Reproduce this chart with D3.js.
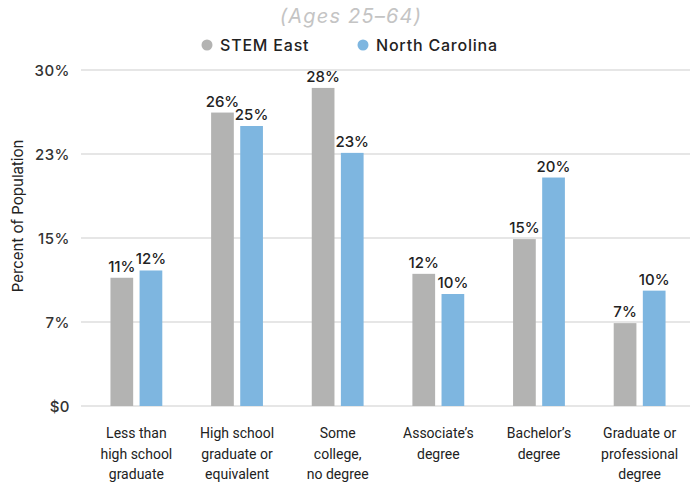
<!DOCTYPE html>
<html><head><meta charset="utf-8">
<script src="https://cdn.jsdelivr.net/npm/d3@7"></script>
<style>body{margin:0;background:#fff}svg{display:block}</style>
</head><body>
<svg id="c" width="697" height="483"></svg>
<script>
const categories = [
  ["Less than","high school","graduate"],
  ["High school","graduate or","equivalent"],
  ["Some","college,","no degree"],
  ["Associate\u2019s","degree"],
  ["Bachelor\u2019s","degree"],
  ["Graduate or","professional","degree"]
];
const seriesNames = ["STEM East","North Carolina"];
const stemEast = [11.45, 26.2, 28.4, 11.8, 14.9, 7.4];
const northCarolina = [12.1, 25.0, 22.6, 10.0, 20.4, 10.3];
const tickValues = [0, 7.5, 15, 22.5, 30];
const tickLabels = ["$0","7%","15%","23%","30%"];
const colors = ["#b3b3b2","#7eb6e0"];

const svg = d3.select("#c");
const y = d3.scaleLinear().domain([0,30]).range([406,70]);
const x0 = d3.scaleBand().domain(d3.range(categories.length)).range([86,690]).paddingInner(0.485).paddingOuter(0.243);
const x1 = d3.scaleBand().domain([0,1]).range([0, x0.bandwidth()]).paddingInner(0.22);
const F = "Inter,'Open Sans',sans-serif";

// gridlines
svg.append("g").selectAll("line").data(tickValues).join("line")
  .attr("x1",81).attr("x2",690)
  .attr("y1",d=>y(d)).attr("y2",d=>y(d))
  .attr("stroke","#e6e6e6").attr("stroke-width",2);

// y tick labels
svg.append("g").selectAll("text").data(tickValues).join("text")
  .attr("x",70).attr("y",d=>y(d)+5.5)
  .attr("text-anchor","end")
  .attr("font-family",F).attr("font-size",15).attr("font-weight",500)
  .attr("letter-spacing",0.5)
  .attr("fill","#333")
  .text((d,i)=>tickLabels[i]);

// y axis title
svg.append("text")
  .attr("transform","translate(23,216) rotate(-90)")
  .attr("text-anchor","middle")
  .attr("font-family",F).attr("font-size",15)
  .attr("fill","#222").text("Percent of Population");

const series = [stemEast, northCarolina];
const groups = svg.append("g").selectAll("g").data(categories).join("g")
  .attr("transform",(d,i)=>`translate(${x0(i)},0)`);

groups.each(function(cat, i){
  const g = d3.select(this);
  series.forEach((s, k)=>{
    g.append("rect")
      .attr("x", x1(k)).attr("width", x1.bandwidth())
      .attr("y", y(s[i])).attr("height", y(0)-y(s[i]))
      .attr("fill", colors[k]);
    g.append("text")
      .attr("x", x1(k)+x1.bandwidth()/2).attr("y", y(s[i])-6)
      .attr("text-anchor","middle")
      .attr("font-family",F).attr("font-size",15).attr("font-weight",500)
      .attr("fill","#222")
      .text(Math.round(s[i])+"%");
  });
  const t = g.append("text")
    .attr("text-anchor","middle")
    .attr("font-family","Roboto,sans-serif").attr("font-size",14)
    .attr("fill","#222");
  cat.forEach((line, j)=>{
    t.append("tspan").attr("x", x0.bandwidth()/2).attr("y", 438 + j*20.5).text(line);
  });
});

// title
svg.append("text")
  .attr("x",351).attr("y",23).attr("text-anchor","middle")
  .attr("font-family",F).attr("font-style","italic").attr("font-size",20)
  .attr("letter-spacing",1.2)
  .attr("fill","#c4c4c4").text("(Ages 25\u201364)");

// legend
const legendX = [207, 363];
const leg = svg.append("g").selectAll("g").data(seriesNames).join("g")
  .attr("transform",(d,i)=>`translate(${legendX[i]},45)`);
leg.append("circle").attr("r",5.5).attr("fill",(d,i)=>colors[i]);
leg.append("text").attr("x",13).attr("y",6)
  .attr("font-family",F).attr("font-size",16).attr("font-weight",500)
  .attr("letter-spacing",0.8)
  .attr("fill","#222").text(d=>d);
</script>
</body></html>
